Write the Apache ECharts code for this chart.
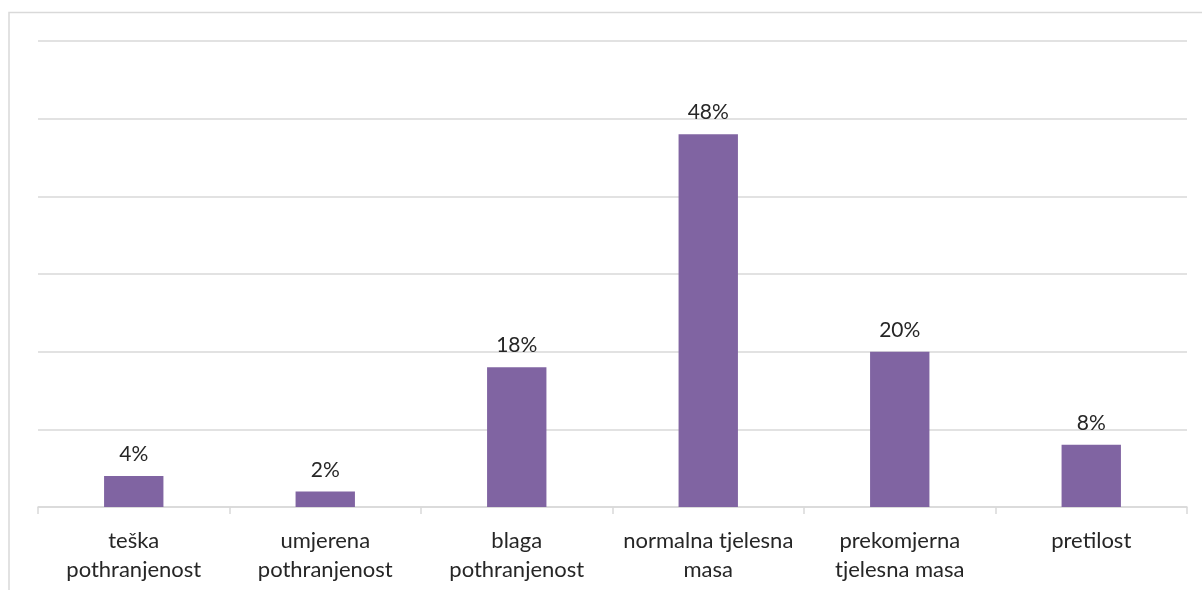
<!DOCTYPE html>
<html><head><meta charset="utf-8">
<script src="https://cdn.jsdelivr.net/npm/echarts@6/dist/echarts.min.js"></script>
<style>html,body{margin:0;padding:0;background:#fff;}#c{width:1202px;height:590px;}</style>
</head><body><div id="c"></div>
<script>
const categories = ['teška\npothranjenost','umjerena\npothranjenost','blaga\npothranjenost','normalna tjelesna\nmasa','prekomjerna\ntjelesna masa','pretilost'];
const values = [4, 2, 18, 48, 20, 8];
const yMax = 60;
const yInterval = 10;
const chart = echarts.init(document.getElementById('c'));
chart.setOption({
  animation: false,
  backgroundColor: '#fff',
  graphic: [{type:'rect', shape:{x:9, y:12.5, width:1400, height:800}, style:{fill:'none', stroke:'#d9d9d9', lineWidth:1.5}, z:-1}],
  grid: {left: 38, right: 15, top: 41, bottom: 83},
  xAxis: {
    type: 'category', data: categories,
    axisLine: {lineStyle:{color:'#d9d9d9', width:1.5}},
    axisTick: {show:true, length:7, lineStyle:{color:'#d9d9d9', width:1.5}},
    axisLabel: {color:'#262626', fontFamily:'Lato', fontSize:22, lineHeight:29, margin:19, interval:0}
  },
  yAxis: {
    type: 'value', min: 0, max: yMax, interval: yInterval,
    axisLabel: {show:false}, axisLine:{show:false}, axisTick:{show:false},
    splitLine: {lineStyle:{color:'#d9d9d9', width:1.5}}
  },
  series: [{
    type: 'bar', data: values, barWidth: '31%',
    itemStyle: {color:'#8064a2'},
    label: {show:true, position:'top', distance:11, formatter:'{c}%', color:'#262626', fontFamily:'Lato', fontSize:21}
  }]
});
</script></body></html>
